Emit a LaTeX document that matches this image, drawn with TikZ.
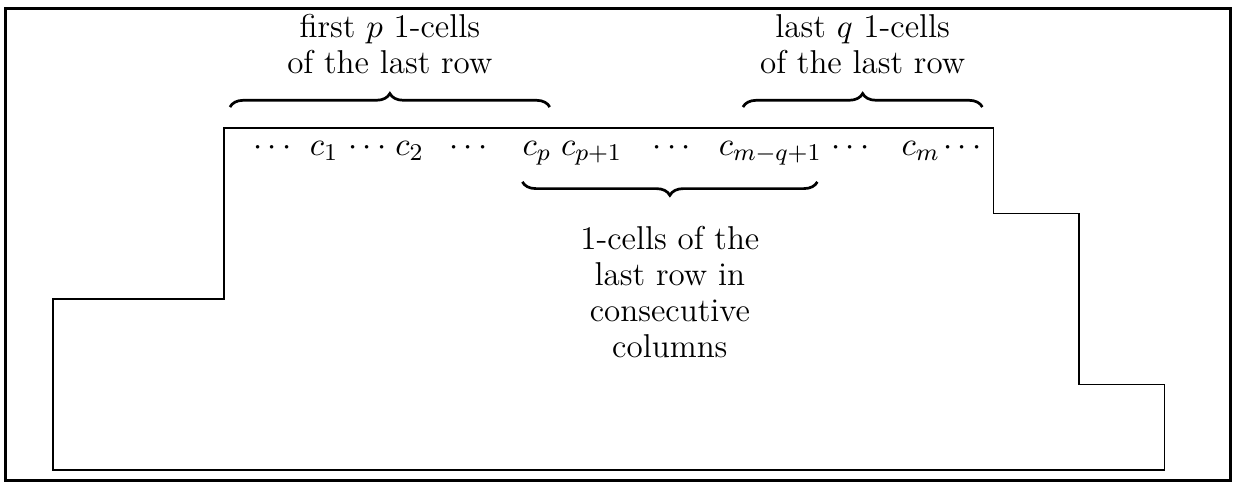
\documentclass[tikz,border=0pt]{standalone}
\usepackage{amsmath, amssymb}
\usepackage{tikz}
\usetikzlibrary{positioning, decorations.pathreplacing}

\begin{document}
\begin{tikzpicture}[
    every node/.style={font=\fontsize{11}{12}\selectfont},
    entry/.style={anchor=base, inner sep=1pt},
    lbl/.style={align=center},
    brc/.style={decorate, decoration={brace, amplitude=4.5pt}, line width=0.9pt},
    outline/.style={draw, thin}
  ]
    \useasboundingbox (-0.62,-0.164) rectangle (13.86,5.497);
    \draw[line width=1pt] (-0.556,-0.123) rectangle (13.775,5.395);

    % the diagram
    \draw[outline] (0,0) -- (0,2) -- (2,2) -- (2,4) -- (11,4) -- (11,3) -- (12,3)
      -- (12,1) -- (13,1) -- (13,0) -- cycle;

    % entries of the last row
    \node[entry] (dotsA) at (2.60,3.68) {$\cdots$};
    \node[entry] (c1) at (3.17,3.68) {$c_1$};
    \node[entry] (dotsB) at (3.71,3.68) {$\cdots$};
    \node[entry] (c2) at (4.17,3.68) {$c_2$};
    \node[entry] (dotsC) at (4.89,3.68) {$\cdots$};
    \node[entry] (cp) at (5.66,3.68) {$c_p$};
    \node[entry] (cpp) at (6.30,3.68) {$c_{p+1}$};
    \node[entry] (dotsD) at (7.27,3.68) {$\cdots$};
    \node[entry] (cmq) at (8.39,3.68) {$c_{m-q+1}$};
    \node[entry] (dotsE) at (9.36,3.68) {$\cdots$};
    \node[entry] (cm) at (10.15,3.68) {$c_m$};
    \node[entry] (dotsF) at (10.67,3.68) {$\cdots$};

    % brace ends
    \coordinate (firstL) at (2.07,4.245);
    \coordinate (firstR) at (5.81,4.245);
    \coordinate (lastL) at (8.07,4.245);
    \coordinate (lastR) at (10.87,4.245);
    \coordinate (consL) at (5.49,3.37);
    \coordinate (consR) at (8.94,3.37);

    \draw[brc] (firstL) -- (firstR) node[lbl, midway, above=7.3pt] (firstlbl) {first $p$ 1-cells\\of the last row};
    \draw[brc] (lastL) -- (lastR) node[lbl, midway, above=7.3pt] (lastlbl) {last $q$ 1-cells\\of the last row};
    \draw[brc] (consR) -- (consL) node[lbl, midway, below=11pt] (conslbl) {1-cells of the\\last row in\\consecutive\\columns};
\end{tikzpicture}
\end{document}
